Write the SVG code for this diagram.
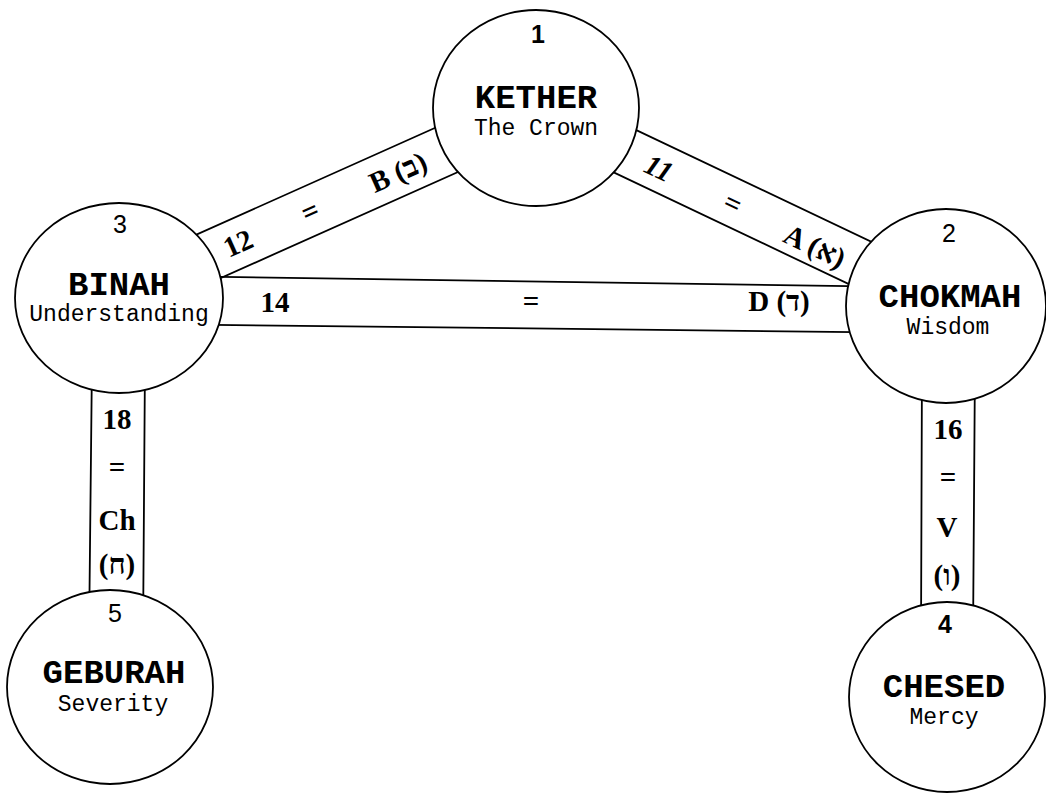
<svg xmlns="http://www.w3.org/2000/svg" width="1046" height="793" viewBox="0 0 1046 793">
<style>
.bg{fill:#fff}
.ln{stroke:#000;stroke-width:1.8;fill:none;stroke-linecap:round}
.node{fill:#fff;stroke:#000;stroke-width:1.8}
.num{font-family:"Liberation Sans","DejaVu Sans",sans-serif;font-size:25px;text-anchor:middle;fill:#000}
.title{font-family:"Liberation Mono","DejaVu Sans Mono",monospace;font-weight:bold;font-size:34px;text-anchor:middle;fill:#000}
.sub{font-family:"Liberation Mono","DejaVu Sans Mono",monospace;font-size:23px;text-anchor:middle;fill:#000}
.pl{font-family:"Liberation Serif","DejaVu Serif",serif;font-weight:bold;font-size:29px;text-anchor:middle;fill:#000}
</style>
<rect class="bg" x="0" y="0" width="1046" height="793"/>
<g id="connectors">
  <g id="path-12">
    <line class="ln" x1="150" y1="255.4" x2="480" y2="107.8"/>
    <line class="ln" x1="170" y1="300.7" x2="500" y2="153.2"/>
    <g transform="translate(238,243) rotate(-24.1)">
      <text class="pl" x="0" y="10">12</text>
    </g>
    <g transform="translate(310,211) rotate(-24.1)">
      <text class="pl" x="0" y="10">=</text>
    </g>
    <g transform="translate(398,172) rotate(-24.1)">
      <text class="pl" x="0" y="10">B (ב)</text>
    </g>
  </g>
  <g id="path-11">
    <line class="ln" x1="600" y1="112.9" x2="920" y2="264.9"/>
    <line class="ln" x1="560" y1="146.9" x2="900" y2="308.4"/>
    <g transform="translate(659,168) rotate(25.4)">
      <text class="pl" x="0" y="10" font-style="italic">11</text>
    </g>
    <g transform="translate(733,203) rotate(25.4)">
      <text class="pl" x="0" y="10">=</text>
    </g>
    <g transform="translate(815,246) rotate(25.4)">
      <text class="pl" x="0" y="10">A (א)</text>
    </g>
  </g>
  <g id="path-14">
    <line class="ln" x1="170" y1="276.2" x2="900" y2="286.8"/>
    <line class="ln" x1="170" y1="324.4" x2="900" y2="332.6"/>
    <text class="pl" x="275" y="312">14</text>
    <text class="pl" x="531" y="311">=</text>
    <text class="pl" x="779" y="311">D (ד)</text>
  </g>
  <g id="path-18">
    <line class="ln" x1="92" y1="360" x2="89" y2="640"/>
    <line class="ln" x1="145" y1="360" x2="143" y2="640"/>
    <text class="pl" x="117" y="429">18</text>
    <text class="pl" x="117" y="477">=</text>
    <text class="pl" x="117" y="530">Ch</text>
    <text class="pl" x="117" y="574">(ח)</text>
  </g>
  <g id="path-16">
    <line class="ln" x1="922" y1="360" x2="921" y2="640"/>
    <line class="ln" x1="975" y1="360" x2="973" y2="640"/>
    <text class="pl" x="948" y="439">16</text>
    <text class="pl" x="948" y="487">=</text>
    <text class="pl" x="947" y="537">V</text>
    <text class="pl" x="947" y="585">(ו)</text>
  </g>
</g>
<g id="kether">
  <ellipse class="node" cx="536" cy="108" rx="103" ry="98"/>
  <text class="num" x="538" y="43" font-weight="bold">1</text>
  <text class="title" x="536" y="108">KETHER</text>
  <text class="sub" x="536" y="135">The Crown</text>
</g>
<g id="chokmah">
  <ellipse class="node" cx="946" cy="306" rx="100" ry="97"/>
  <text class="num" x="949" y="242">2</text>
  <text class="title" x="950" y="307">CHOKMAH</text>
  <text class="sub" x="948" y="334">Wisdom</text>
</g>
<g id="binah">
  <ellipse class="node" cx="119" cy="298" rx="104" ry="95"/>
  <text class="num" x="120" y="233">3</text>
  <text class="title" x="119" y="295">BINAH</text>
  <text class="sub" x="119" y="321">Understanding</text>
</g>
<g id="geburah">
  <ellipse class="node" cx="110" cy="687" rx="103" ry="97"/>
  <text class="num" x="115" y="622">5</text>
  <text class="title" x="114" y="683">GEBURAH</text>
  <text class="sub" x="113" y="711">Severity</text>
</g>
<g id="chesed">
  <ellipse class="node" cx="947" cy="697" rx="98" ry="95"/>
  <text class="num" x="945" y="633" font-weight="bold">4</text>
  <text class="title" x="944" y="697">CHESED</text>
  <text class="sub" x="944" y="724">Mercy</text>
</g>
</svg>
